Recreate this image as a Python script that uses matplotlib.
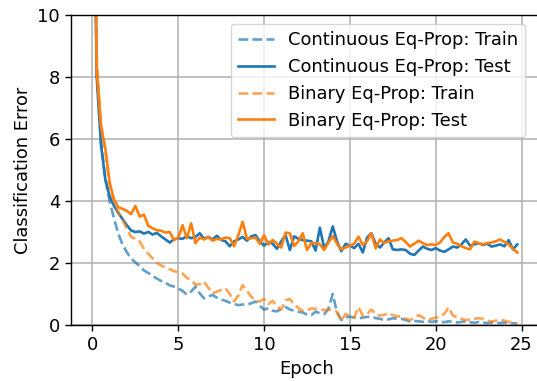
import matplotlib
matplotlib.use('Agg')
import matplotlib.pyplot as plt
import numpy as np

# quarter-epoch checkpoints
epochs = np.arange(100) / 4.0

cont_train = [18, 8.0, 5.9, 4.7, 4.0, 3.45, 2.95, 2.6, 2.35, 2.15,
              2.02, 1.9, 1.76, 1.68, 1.58, 1.5, 1.42, 1.36, 1.28, 1.24,
              1.18, 1.1, 0.98, 1.08, 1.24, 1.02, 0.86, 0.92, 0.97, 0.88,
              0.82, 0.78, 0.72, 0.68, 0.64, 0.66, 0.65, 0.7, 0.76, 0.62,
              0.5, 0.54, 0.46, 0.44, 0.52, 0.58, 0.5, 0.46, 0.43, 0.4,
              0.34, 0.32, 0.43, 0.38, 0.35, 0.52, 1.0, 0.4, 0.16, 0.24,
              0.27, 0.24, 0.21, 0.24, 0.26, 0.27, 0.22, 0.2, 0.16, 0.18,
              0.22, 0.2, 0.2, 0.16, 0.11, 0.13, 0.12, 0.1, 0.13, 0.1,
              0.12, 0.1, 0.09, 0.12, 0.1, 0.08, 0.1, 0.12, 0.09, 0.07,
              0.1, 0.08, 0.06, 0.08, 0.07, 0.06, 0.08, 0.05, 0.06, 0.04]

cont_test = [18, 8.0, 5.8, 4.7, 4.15, 3.85, 3.62, 3.42, 3.22, 3.05,
             3.0, 3.02, 2.95, 3.0, 2.92, 2.97, 2.86, 2.76, 2.66, 2.76,
             2.8, 2.78, 2.86, 2.8, 2.84, 2.96, 2.78, 2.84, 2.76, 2.88,
             2.74, 2.7, 2.54, 2.7, 2.76, 2.84, 2.72, 2.86, 2.9, 2.7,
             2.56, 2.68, 2.62, 2.46, 2.7, 2.9, 2.42, 2.86, 2.78, 2.74,
             2.72, 2.7, 2.4, 3.14, 2.48, 2.7, 3.18, 2.7, 2.38, 2.62,
             2.56, 2.48, 2.62, 2.34, 2.82, 2.96, 2.62, 2.5, 2.66, 2.8,
             2.44, 2.42, 2.44, 2.42, 2.3, 2.26, 2.4, 2.53, 2.46, 2.42,
             2.48, 2.4, 2.36, 2.44, 2.53, 2.5, 2.6, 2.76, 2.56, 2.6,
             2.64, 2.58, 2.62, 2.53, 2.56, 2.6, 2.54, 2.74, 2.44, 2.6]

bin_train = [20, 8.6, 6.5, 5.6, 4.5, 4.0, 3.65, 3.4, 3.1, 2.85,
             2.78, 2.7, 2.45, 2.3, 2.15, 2.0, 1.92, 1.86, 1.8, 1.74,
             1.7, 1.66, 1.52, 1.45, 1.3, 1.32, 1.4, 1.2, 1.02, 1.08,
             1.13, 1.18, 1.0, 0.76, 0.95, 1.29, 1.1, 0.92, 0.78, 0.76,
             0.84, 0.68, 0.78, 0.6, 0.5, 0.8, 0.84, 0.66, 0.55, 0.45,
             0.46, 0.54, 0.52, 0.5, 0.48, 0.5, 0.48, 0.43, 0.14, 0.36,
             0.28, 0.24, 0.58, 0.3, 0.35, 0.5, 0.34, 0.3, 0.33, 0.38,
             0.32, 0.28, 0.27, 0.2, 0.16, 0.22, 0.32, 0.24, 0.16, 0.2,
             0.24, 0.27, 0.36, 0.57, 0.3, 0.25, 0.2, 0.16, 0.18, 0.2,
             0.22, 0.2, 0.14, 0.11, 0.14, 0.16, 0.14, 0.1, 0.08, 0.05]

bin_test = [20, 8.2, 6.4, 5.7, 4.6, 4.05, 3.8, 3.75, 3.68, 3.58,
            3.84, 3.5, 3.56, 3.2, 3.12, 3.06, 3.04, 2.98, 3.0, 2.74,
            2.82, 3.22, 2.8, 3.28, 2.64, 2.82, 2.76, 2.84, 2.72, 2.78,
            2.76, 2.82, 2.8, 2.54, 2.9, 3.33, 2.78, 2.8, 2.82, 2.62,
            2.9, 2.6, 2.74, 2.62, 2.5, 2.98, 2.96, 2.55, 2.7, 2.96,
            2.42, 2.64, 2.64, 2.6, 2.42, 2.66, 2.87, 2.62, 2.44, 2.5,
            2.56, 2.62, 2.85, 2.58, 2.7, 2.96, 2.47, 2.76, 2.64, 2.7,
            2.72, 2.74, 2.8, 2.68, 2.53, 2.62, 2.72, 2.64, 2.58, 2.6,
            2.58, 2.66, 2.84, 2.96, 2.66, 2.62, 2.54, 2.48, 2.44, 2.69,
            2.64, 2.6, 2.64, 2.66, 2.7, 2.76, 2.68, 2.6, 2.46, 2.34]

fs = 12.9
plt.rcParams['font.size'] = fs
plt.rcParams['axes.linewidth'] = 1.0

fig = plt.figure(figsize=(5.37, 3.81), dpi=100)
# axes runs past the right edge, as in the cropped original
ax = fig.add_axes([71/537, 56/381, 472/537, 310/381])

lw = 1.9
ax.plot(epochs, cont_train, '--', color='C0', alpha=0.7, lw=lw,
        label='Continuous Eq-Prop: Train')
ax.plot(epochs, cont_test, '-', color='C0', lw=lw,
        label='Continuous Eq-Prop: Test')
ax.plot(epochs, bin_train, '--', color='C1', alpha=0.7, lw=lw,
        label='Binary Eq-Prop: Train')
ax.plot(epochs, bin_test, '-', color='C1', lw=lw,
        label='Binary Eq-Prop: Test')

ax.set_ylim(0, 10)
ax.set_xlim(-1.25, 26.25)
ax.set_xticks([0, 5, 10, 15, 20, 25])
ax.set_yticks([0, 2, 4, 6, 8, 10])
ax.spines['right'].set_visible(False)
ax.grid(True, color='#b0b0b0', lw=1.1)
ax.tick_params(length=4.5, width=1.0, labelsize=fs)
ax.set_xlabel('Epoch', fontsize=fs)
ax.set_ylabel('Classification Error', fontsize=fs)
ax.legend(loc='upper right', fontsize=fs, bbox_to_anchor=(0.978, 0.995),
          handlelength=2.0, labelspacing=0.5, borderaxespad=0.4)

fig.savefig('out.png', dpi=100)
